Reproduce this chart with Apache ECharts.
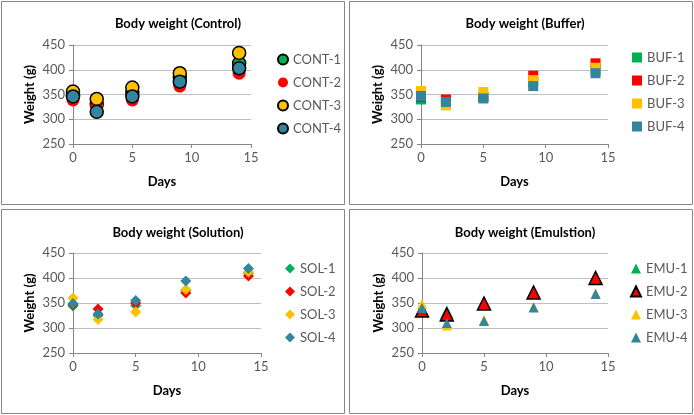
<!DOCTYPE html>
<html><head><meta charset="utf-8">
<script src="https://cdn.jsdelivr.net/npm/echarts@6/dist/echarts.min.js"></script>
<style>
html,body{margin:0;padding:0;background:#fff;}
#c{position:absolute;left:0;top:0;width:694px;height:415px;}
</style></head><body>
<div id="c"></div>
<script>
// ---- data ----
const days = [0, 2, 5, 9, 14];

const contNames = ['CONT-1', 'CONT-2', 'CONT-3', 'CONT-4'];
const cont1 = [348, 330, 355, 385, 413];
const cont2 = [339, 329, 339, 367, 393];
const cont3 = [356, 341, 364, 393, 434];
const cont4 = [346, 315, 346, 376, 403];

const bufNames = ['BUF-1', 'BUF-2', 'BUF-3', 'BUF-4'];
const buf1 = [340, 335, 345, 375, 400];
const buf2 = [345, 340, 345, 388, 413];
const buf3 = [357, 328, 355, 379, 404];
const buf4 = [347, 335, 342, 367, 393];

const solNames = ['SOL-1', 'SOL-2', 'SOL-3', 'SOL-4'];
const sol1 = [344, 325, 345, 375, 410];
const sol2 = [347, 338, 350, 370, 404];
const sol3 = [360, 317, 332, 377, 412];
const sol4 = [349, 328, 355, 394, 419];

const emuNames = ['EMU-1', 'EMU-2', 'EMU-3', 'EMU-4'];
const emu1 = [336, 332, 350, 372, 401];
const emu2 = [335, 327, 349, 371, 400];
const emu3 = [348, 305, 316, 342, 369];
const emu4 = [340, 310, 314, 341, 368];

const titles = ['Body weight (Control)', 'Body weight (Buffer)', 'Body weight (Solution)', 'Body weight (Emulstion)'];
const yTicks = [250, 300, 350, 400, 450];
const xTicks = [0, 5, 10, 15];

// ---- styling ----
const colors = ['#00b050', '#ff0000', '#ffc000', '#31859c'];
const FONT = 'Lato, "Open Sans", sans-serif';
const txt = '#595959';

const panels = [
  {box:[1,1,344,204], grid:{left:73,top:45,width:178,height:99}, leg:{left:272,top:48}, tc:173, ty:12,
   names:contNames, data:[cont1,cont2,cont3,cont4], symbol:'circle', sizes:[13,13,13,13], borders:[1.5,0,1.5,1.5]},
  {box:[349,1,344,204], grid:{left:421,top:45,width:187,height:99}, leg:{left:627,top:46}, tc:520, ty:12,
   names:bufNames, data:[buf1,buf2,buf3,buf4], symbol:'rect', sizes:[10,10,10,10], borders:[0,0,0,0]},
  {box:[1,209,344,205], grid:{left:73,top:253,width:188,height:100}, leg:{left:280,top:257}, tc:173, ty:221,
   names:solNames, data:[sol1,sol2,sol3,sol4], symbol:'diamond', sizes:[11,11,11,11], borders:[0,0,0,0]},
  {box:[349,209,344,205], grid:{left:422,top:253,width:186,height:100}, leg:{left:625,top:257}, tc:520, ty:221,
   names:emuNames, data:[emu1,emu2,emu3,emu4], symbol:'triangle', sizes:[13,13,10,10], borders:[0,1.5,0,0]}
];

const option = {
  animation: false,
  backgroundColor: '#fff',
  title: [], legend: [], grid: [], xAxis: [], yAxis: [], series: [], graphic: []
};

panels.forEach((p, k) => {
  option.graphic.push({type:'rect', shape:{x:p.box[0]+0.5, y:p.box[1]+0.5, width:p.box[2]-1, height:p.box[3]-1},
    style:{fill:'none', stroke:'#868686', lineWidth:1}, silent:true, z:-1});
  option.title.push({text: titles[k], left: p.tc, top: p.ty, textAlign:'center',
    textStyle:{fontFamily:FONT, fontSize:13, fontWeight:'bold', color:'#000'}});
  option.grid.push(Object.assign({containLabel:false}, p.grid));
  option.xAxis.push({type:'value', gridIndex:k, min:xTicks[0], max:xTicks[xTicks.length-1], interval:5,
    name:'Days', nameLocation:'middle', nameGap:31,
    nameTextStyle:{fontFamily:FONT, fontSize:13, fontWeight:'bold', color:'#000'},
    axisLine:{show:true, lineStyle:{color:'#868686'}}, axisTick:{show:true, length:4, lineStyle:{color:'#868686'}},
    axisLabel:{fontFamily:FONT, fontSize:13, color:txt, margin:7}, splitLine:{show:false}});
  option.yAxis.push({type:'value', gridIndex:k, min:yTicks[0], max:yTicks[yTicks.length-1], interval:50,
    name:'Weight (g)', nameLocation:'middle', nameGap:37, nameRotate:90,
    nameTextStyle:{fontFamily:FONT, fontSize:13, fontWeight:'bold', color:'#000'},
    axisLine:{show:true, lineStyle:{color:'#868686'}}, axisTick:{show:true, length:4, lineStyle:{color:'#868686'}},
    axisLabel:{fontFamily:FONT, fontSize:13, color:txt, margin:8},
    splitLine:{show:true, lineStyle:{color:'#bfbfbf', width:1}}});
  option.legend.push({orient:'vertical', left:p.leg.left, top:p.leg.top, itemWidth:10, itemHeight:10, itemGap:10,
    data:p.names, textStyle:{fontFamily:FONT, fontSize:13, color:txt}, itemStyle:{}});
  p.names.forEach((nm, i) => {
    option.series.push({type:'scatter', name:nm, xAxisIndex:k, yAxisIndex:k, symbol:p.symbol,
      symbolSize:p.sizes[i], z:2+i,
      itemStyle:{color:colors[i], borderColor:'#000', borderWidth:p.borders[i], opacity:1},
      data: days.map((d, j) => [d, p.data[i][j]])});
  });
});

const chart = echarts.init(document.getElementById('c'), null, {renderer:'canvas'});
chart.setOption(option);
</script></body></html>
